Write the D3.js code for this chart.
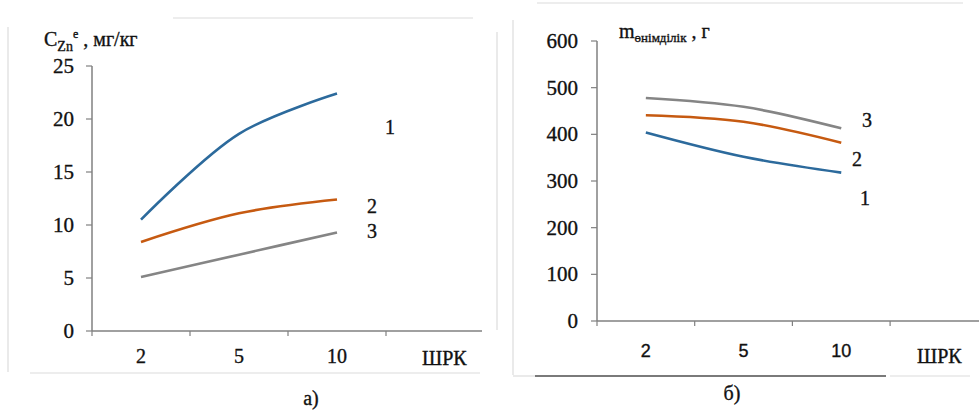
<!DOCTYPE html>
<html>
<head>
<meta charset="utf-8">
<script src="https://cdn.jsdelivr.net/npm/d3@7"></script>
<style>
  body { margin: 0; background: #fff; }
</style>
</head>
<body>
<div id="chart"></div>
<script>
// categories (ШРК values) and series
const categories = ["2", "5", "10"];
const seriesNames = ["1", "2", "3"];

// panel a) C_Zn, mg/kg
const concS1 = [10.5, 18.6, 22.4];
const concS2 = [8.4, 11.1, 12.4];
const concS3 = [5.1, 7.2, 9.3];
const concTicks = [0, 5, 10, 15, 20, 25];

// panel б) yield, g
const yieldS1 = [404, 352, 318];
const yieldS2 = [441, 427, 382];
const yieldS3 = [478, 459, 413];
const yieldTicks = [0, 100, 200, 300, 400, 500, 600];

const colors = ["#2c6a9c", "#c65a11", "#858585"];
const SERIF = "'Liberation Serif'";
const SANS = "'Liberation Sans'";

const svg = d3.select("#chart").append("svg")
    .attr("width", 979).attr("height", 417);

// light frames from the scanned page
const frame = [
    [8, 27, 8, 372], [30, 373, 480, 373], [173, 18, 473, 18], [497, 32, 497, 330],
    [537, 3, 963, 3], [513, 20, 513, 375], [513, 376, 535, 376], [890, 376, 970, 376]
];
frame.forEach(f => svg.append("line")
    .attr("x1", f[0]).attr("y1", f[1]).attr("x2", f[2]).attr("y2", f[3])
    .attr("stroke", "#dcdcdc").attr("stroke-width", 1.2));
svg.append("line").attr("x1", 535).attr("y1", 376).attr("x2", 886).attr("y2", 376)
    .attr("stroke", "#7a7a7a").attr("stroke-width", 2);

function txt(parent, x, y, size, s, font) {
    return parent.append("text").attr("x", x).attr("y", y)
        .style("font-family", font || SERIF).style("font-size", size + "px")
        .attr("fill", "#111").attr("stroke", "#111").attr("stroke-width", 0.35)
        .text(s);
}

function panel(cfg) {
    const g = svg.append("g");
    // category bands - ticks sit between categories like Excel
    const x = d3.scaleBand().domain(categories.concat(["_"])).range([cfg.x0, cfg.x0 + 4 * cfg.step]);
    const y = d3.scaleLinear().domain([0, cfg.ticks[cfg.ticks.length - 1]]).range([cfg.yBottom, cfg.yTop]);

    // y axis
    g.append("line").attr("x1", cfg.x0).attr("x2", cfg.x0)
        .attr("y1", y(0)).attr("y2", y.range()[1]).attr("stroke", "#808080").attr("stroke-width", 1.5);
    cfg.ticks.forEach(t => {
        g.append("line").attr("x1", cfg.x0 - 6).attr("x2", cfg.x0)
            .attr("y1", y(t)).attr("y2", y(t)).attr("stroke", "#808080").attr("stroke-width", 1.2);
        txt(g, cfg.yLabelX, y(t) + 7, 21, t).attr("text-anchor", "end");
    });

    // x axis
    g.append("line").attr("x1", cfg.x0).attr("x2", cfg.xEnd)
        .attr("y1", y(0)).attr("y2", y(0)).attr("stroke", "#808080").attr("stroke-width", 1.5);
    x.domain().forEach(c => {
        g.append("line").attr("x1", x(c)).attr("x2", x(c))
            .attr("y1", y(0)).attr("y2", y(0) + 5).attr("stroke", "#808080").attr("stroke-width", 1.2);
    });
    categories.forEach(c => {
        txt(g, x(c) + x.bandwidth() / 2, cfg.xLabelY, cfg.xFontSize, c, cfg.xFont)
            .attr("text-anchor", "middle");
    });
    txt(g, cfg.unitX, cfg.unitY, 20, "ШРК");

    // smoothed series
    const line = d3.line()
        .x((d, i) => x(categories[i]) + x.bandwidth() / 2)
        .y(d => y(d))
        .curve(d3.curveCatmullRom.alpha(0.5));
    cfg.series.forEach((s, i) => {
        g.append("path").attr("d", line(s)).attr("fill", "none")
            .attr("stroke", colors[i]).attr("stroke-width", 2.6);
    });
    cfg.labels.forEach((p, i) => {
        txt(g, p[0], p[1], 20, seriesNames[i]).attr("text-anchor", "middle");
    });
    return g;
}

panel({
    x0: 92, step: 98, xEnd: 482, yTop: 66, yBottom: 331, ticks: concTicks, yLabelX: 74,
    xLabelY: 363, xFont: SERIF, xFontSize: 20, unitX: 422, unitY: 365,
    series: [concS1, concS2, concS3],
    labels: [[390, 134], [372, 213], [372, 238]]
});
panel({
    x0: 597, step: 97.7, xEnd: 979, yTop: 41, yBottom: 321, ticks: yieldTicks, yLabelX: 578,
    xLabelY: 357, xFont: SANS, xFontSize: 18, unitX: 917, unitY: 363,
    series: [yieldS1, yieldS2, yieldS3],
    labels: [[865, 205], [857, 166], [867, 127]]
});

// axis titles
const ta = txt(svg, 44, 46, 20, null);
ta.append("tspan").text("C");
ta.append("tspan").attr("dy", 5).style("font-size", "14px").text("Zn");
ta.append("tspan").attr("dy", -13).style("font-size", "12px").text("е");
ta.append("tspan").attr("dy", 8).text(" , мг/кг");

const tb = txt(svg, 619, 38, 20, null);
tb.append("tspan").text("m");
tb.append("tspan").attr("dy", 4).style("font-size", "13px").text("өнімділік");
tb.append("tspan").attr("dy", -4).text(" , г");

// captions
txt(svg, 311, 405, 20, "а)").attr("text-anchor", "middle");
txt(svg, 732, 400, 20, "б)").attr("text-anchor", "middle");
</script>
</body>
</html>
